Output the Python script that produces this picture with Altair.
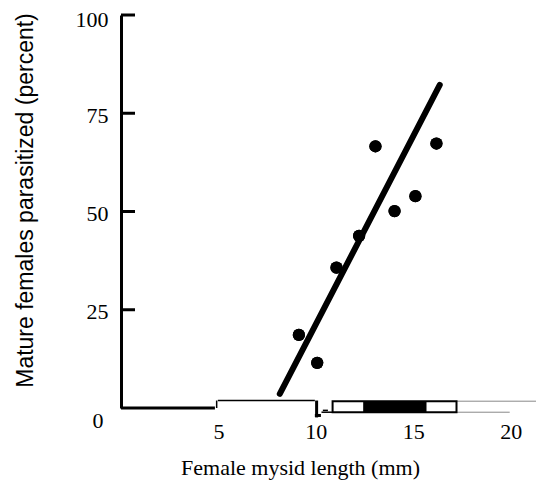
import altair as alt
import pandas as pd

# Scatter points: female mysid length (mm) vs mature females parasitized (%)
length_mm = [9.13, 10.07, 11.06, 12.22, 13.06, 14.04, 15.11, 16.19]
parasitized = [18.6, 11.5, 35.7, 43.8, 66.6, 50.1, 53.9, 67.3]

# Fitted line end points
fit_x = [8.15, 16.36]
fit_y = [3.6, 82.2]

# Axis tick values
y_ticks = [0, 25, 50, 75, 100]
y_inner_ticks = [25, 50, 75, 100]
x_ticks = [5, 10, 15, 20]

# Broken x-axis baseline pieces (as printed in the original figure)
thick_x1 = [0.0, 10.04, 9.95]
thick_x2 = [4.82, 10.04, 10.26]
thick_y1 = [0.0, 1.9, -1.9]
thick_y2 = [0.0, -2.4, -1.9]

thin_x1 = [4.91, 4.97, 10.29, 10.36]
thin_x2 = [4.91, 9.95, 10.85, 10.62]
thin_y1 = [0.0, 1.9, -1.07, -0.6]
thin_y2 = [1.9, 1.9, -1.07, -0.6]

box_x1 = [10.86]
box_x2 = [17.22]
box_y1 = [-1.07]
box_y2 = [1.73]

fill_x1 = [12.43]
fill_x2 = [15.68]
fill_y1 = [-1.07]
fill_y2 = [1.73]

gray_x1 = [17.22, 17.22]
gray_x2 = [21.3, 19.95]
gray_y1 = [1.73, -1.07]
gray_y2 = [1.73, -1.07]

xs = alt.Scale(domain=[0, 21.3], nice=False, zero=False)
ys = alt.Scale(domain=[0, 100], nice=False, zero=False)

pts = pd.DataFrame({"x": length_mm, "y": parasitized})
fit = pd.DataFrame({"x": fit_x, "y": fit_y})

def segs(x1, x2, y1, y2):
    return pd.DataFrame({"x": x1, "x2": x2, "y": y1, "y2": y2})

points = alt.Chart(pts).mark_circle(size=150, color="black", opacity=1).encode(
    x=alt.X("x:Q", scale=xs, axis=alt.Axis(
        values=x_ticks, domain=False, ticks=False, tickSize=0, grid=False,
        labelFont="Liberation Serif", labelFontSize=22, labelColor="black",
        labelPadding=13,
        title="Female mysid length (mm)", titleFont="Liberation Serif",
        titleFontSize=22, titleFontWeight="normal", titleColor="black",
        titleX=179, titleY=66, titleAlign="center", titleBaseline="alphabetic")),
    y=alt.Y("y:Q", scale=ys, axis=alt.Axis(
        values=y_ticks, domain=True, domainColor="black", domainWidth=3,
        ticks=False, tickSize=0, grid=False,
        labelFont="Liberation Serif", labelFontSize=22, labelColor="black",
        labelPadding={"condition": {"test": "datum.value === 0", "value": 18}, "value": 13},
        labelOffset=alt.ExprRef("datum.value === 0 ? 12 : (datum.value === 100 ? 4 : 2)"),
        title="Mature females parasitized (percent)", titleFont="Liberation Sans",
        titleFontSize=23, titleFontWeight="normal", titleColor="black",
        titleAngle=-90, titleX=-89, titleY=185, titleAlign="center",
        titleBaseline="alphabetic")),
)

fitline = alt.Chart(fit).mark_line(color="black", strokeWidth=6, strokeCap="round").encode(
    x=alt.X("x:Q", scale=xs), y=alt.Y("y:Q", scale=ys))

yt = alt.Chart(pd.DataFrame({"y": y_inner_ticks})).mark_rule(color="black", strokeWidth=3).encode(
    y=alt.Y("y:Q", scale=ys), x=alt.value(0), x2=alt.value(14))

def rule_layer(df, **kw):
    return alt.Chart(df).mark_rule(**kw).encode(
        x=alt.X("x:Q", scale=xs), x2="x2:Q", y=alt.Y("y:Q", scale=ys), y2="y2:Q")

thick = rule_layer(segs(thick_x1, thick_x2, thick_y1, thick_y2), color="black", strokeWidth=3)
thin = rule_layer(segs(thin_x1, thin_x2, thin_y1, thin_y2), color="black", strokeWidth=1.5)
gray = rule_layer(segs(gray_x1, gray_x2, gray_y1, gray_y2), color="#888888", strokeWidth=1)

box = alt.Chart(segs(box_x1, box_x2, box_y1, box_y2)).mark_rect(
    fill="white", stroke="black", strokeWidth=2).encode(
    x=alt.X("x:Q", scale=xs), x2="x2:Q", y=alt.Y("y:Q", scale=ys), y2="y2:Q")
fill = alt.Chart(segs(fill_x1, fill_x2, fill_y1, fill_y2)).mark_rect(color="black").encode(
    x=alt.X("x:Q", scale=xs), x2="x2:Q", y=alt.Y("y:Q", scale=ys), y2="y2:Q")

chart = alt.layer(points, gray, box, fill, thick, thin, yt, fitline, points).properties(
    width=415, height=393,
    autosize=alt.AutoSizeParams(type="none"),
    padding={"left": 113, "top": 7, "right": 0, "bottom": 74},
    background="white",
).configure_view(stroke=None)

chart.save("out.html", embed_options={"renderer": "svg", "actions": False})
